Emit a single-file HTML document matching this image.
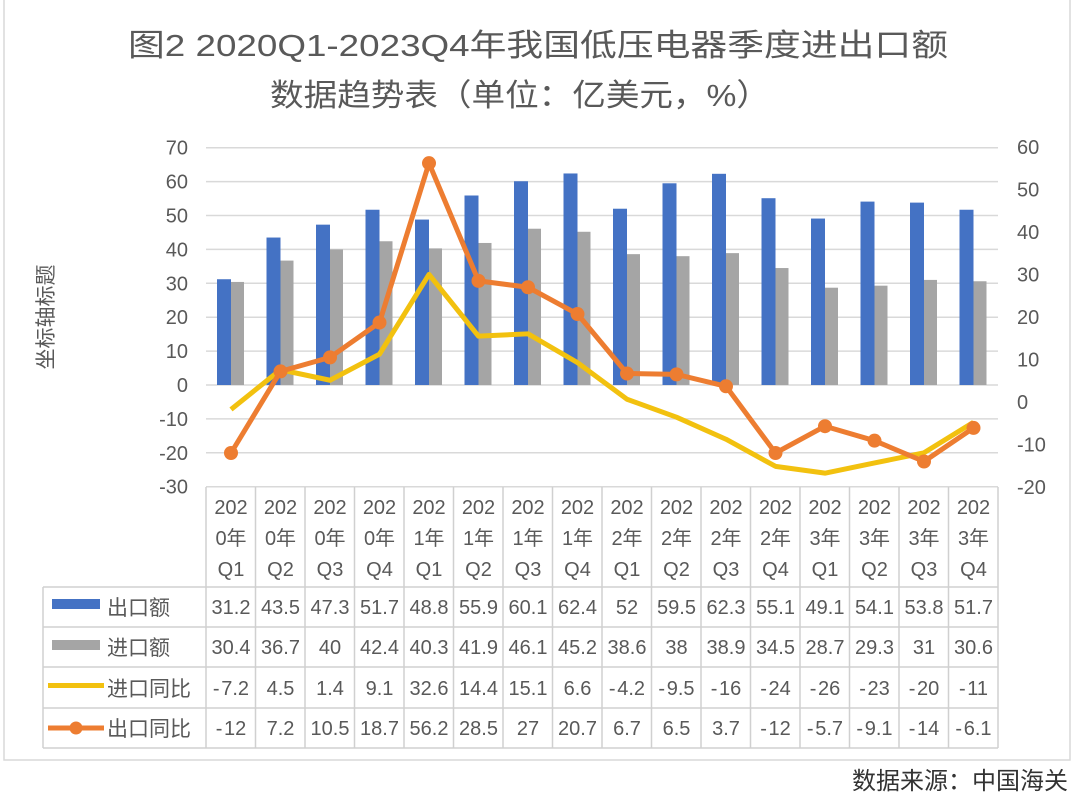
<!DOCTYPE html>
<html><head><meta charset="utf-8"><style>
html,body{margin:0;padding:0;background:#fff;}
svg{display:block;font-family:"Liberation Sans","Noto Sans CJK SC",sans-serif;}
</style></head><body>
<svg width="1080" height="805" viewBox="0 0 1080 805" xmlns="http://www.w3.org/2000/svg">
<rect x="4" y="-2" width="1066" height="762" fill="none" stroke="#d9d9d9" stroke-width="1.5"/>
<g font-family="'Liberation Sans','Noto Sans CJK SC',sans-serif" fill="#595959">
<text x="538" y="56" font-size="31" text-anchor="middle" textLength="820" lengthAdjust="spacingAndGlyphs">图2  2020Q1-2023Q4年我国低压电器季度进出口额</text>
<text x="520" y="106" font-size="31" text-anchor="middle" textLength="500" lengthAdjust="spacingAndGlyphs">数据趋势表（单位：亿美元，%）</text>
</g>
<g id="grid" stroke="#d9d9d9" stroke-width="1.5"></g>
<g id="bars"></g>
<g id="lines"></g>
<g id="labels" font-size="20" fill="#595959"></g>
<text transform="translate(53,317) rotate(-90)" font-size="21" fill="#595959" text-anchor="middle" font-family="'Liberation Sans','Noto Sans CJK SC',sans-serif">坐标轴标题</text>
<g id="table" stroke="#d0d0d0" stroke-width="1.5"></g>
<g id="ttext" font-size="20" fill="#595959" text-anchor="middle" font-family="'Liberation Sans','Noto Sans CJK SC',sans-serif"></g>
<rect x="52" y="599" width="48" height="10" fill="#4472C4"/>
<rect x="52" y="640" width="48" height="10" fill="#A5A5A5"/>
<rect x="48" y="683" width="56" height="5" fill="#F2C10F"/>
<line x1="48" y1="728" x2="104" y2="728" stroke="#ED7D31" stroke-width="5"/>
<circle cx="76" cy="728" r="6.5" fill="#ED7D31"/>
<g font-size="21" fill="#595959" font-family="'Liberation Sans','Noto Sans CJK SC',sans-serif">
<text x="107" y="615">出口额</text>
<text x="107" y="655">进口额</text>
<text x="107" y="696">进口同比</text>
<text x="107" y="736">出口同比</text>
</g>
<text x="1068" y="789" font-size="24" fill="#333" text-anchor="end" font-family="'Liberation Sans','Noto Sans CJK SC',sans-serif">数据来源：中国海关</text>
<script>
var NS="http://www.w3.org/2000/svg";
function el(p,t,a,txt){var e=document.createElementNS(NS,t);for(var k in a)e.setAttribute(k,a[k]);if(txt!==undefined)e.textContent=txt;document.getElementById(p).appendChild(e);return e;}
var exp=[31.2,43.5,47.3,51.7,48.8,55.9,60.1,62.4,52,59.5,62.3,55.1,49.1,54.1,53.8,51.7];
var imp=[30.4,36.7,40,42.4,40.3,41.9,46.1,45.2,38.6,38,38.9,34.5,28.7,29.3,31,30.6];
var iy=[-7.2,4.5,1.4,9.1,32.6,14.4,15.1,6.6,-4.2,-9.5,-16,-24,-26,-23,-20,-11];
var ey=[-12,7.2,10.5,18.7,56.2,28.5,27,20.7,6.7,6.5,3.7,-12,-5.7,-9.1,-14,-6.1];
var L=function(v){return 385-v*3.39;}, R=function(v){return 402-v*4.25;};
var cx=function(i){return 231+49.5*i;};
for(var v=-30;v<=70;v+=10){var y=L(v);el("grid","line",{x1:206,x2:998,y1:y,y2:y});el("labels","text",{x:188,y:y+7,"text-anchor":"end"},String(v));}
for(var v=-20;v<=60;v+=10){el("labels","text",{x:1017,y:R(v)+7},String(v));}
for(var i=0;i<16;i++){var c=cx(i);
el("bars","rect",{x:c-14,y:L(exp[i]),width:14,height:385-L(exp[i]),fill:"#4472C4"});
el("bars","rect",{x:c,y:L(imp[i]),width:13,height:385-L(imp[i]),fill:"#A5A5A5"});}
var p1="",p2="";for(var i=0;i<16;i++){p1+=(i?"L":"M")+cx(i)+","+L(iy[i]);p2+=(i?"L":"M")+cx(i)+","+R(ey[i]);}
el("lines","path",{d:p1,fill:"none",stroke:"#F2C10F","stroke-width":5,"stroke-linejoin":"round"});
el("lines","path",{d:p2,fill:"none",stroke:"#ED7D31","stroke-width":5,"stroke-linejoin":"round"});
for(var i=0;i<16;i++)el("lines","circle",{cx:cx(i),cy:R(ey[i]),r:7,fill:"#ED7D31"});
for(var i=0;i<=16;i++){var x=206+49.5*i;el("table","line",{x1:x,x2:x,y1:487,y2:748});}
el("table","line",{x1:43,x2:43,y1:587,y2:748});
[587,627,667,708,748].forEach(function(y){el("table","line",{x1:43,x2:998,y1:y,y2:y});});
var rows=[exp,imp,iy,ey],ry=[614,654,695,735];
for(var i=0;i<16;i++){var c=cx(i);
el("ttext","text",{x:c,y:514},"202");
el("ttext","text",{x:c,y:545},Math.floor(i/4)+"年");
el("ttext","text",{x:c,y:576},"Q"+(i%4+1));
for(var r=0;r<4;r++){var s=String(rows[r][i]);if(r>=2){s=(r==2?["-7.2","4.5","1.4","9.1","32.6","14.4","15.1","6.6","-4.2","-9.5","-16","-24","-26","-23","-20","-11"]:["-12","7.2","10.5","18.7","56.2","28.5","27","20.7","6.7","6.5","3.7","-12","-5.7","-9.1","-14","-6.1"])[i];}
s=s.replace("-","-\u200a");
el("ttext","text",{x:c,y:ry[r]},s);}}
</script>
</svg>
</body></html>
